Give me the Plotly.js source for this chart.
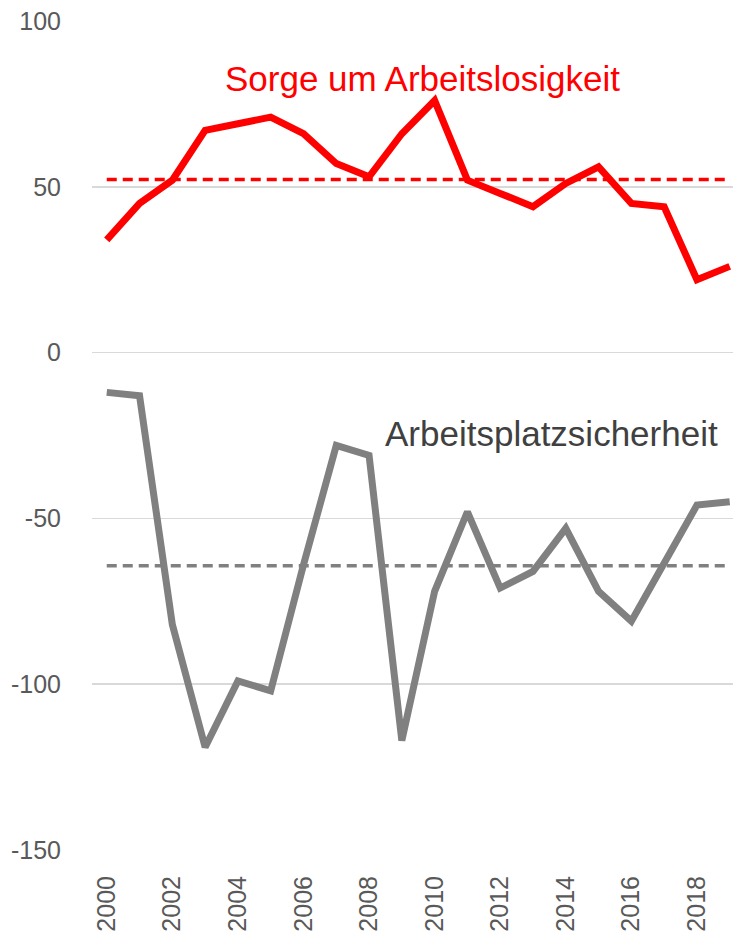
<!DOCTYPE html>
<html>
<head>
<meta charset="utf-8">
<script src="https://cdn.plot.ly/plotly-3.0.1.min.js"></script>
<style>html,body{margin:0;padding:0;background:#fff;}#chart{width:733px;height:931px;}</style>
</head>
<body>
<div id="chart"></div>
<script>
const years = [2000,2001,2002,2003,2004,2005,2006,2007,2008,2009,2010,2011,2012,2013,2014,2015,2016,2017,2018,2019];
const sorge = [34,45,52,67,69,71,66,57,53,66,76,52,48,44,51,56,45,44,22,26];
const sicherheit = [-12,-13,-82,-119,-99,-102,-64,-28,-31,-117,-72,-48,-71,-66,-53,-72,-81,-64,-46,-45];
const xTicks = [2000,2002,2004,2006,2008,2010,2012,2014,2016,2018];
const yTicks = [-150,-100,-50,0,50,100];
const labelSorge = "Sorge um Arbeitslosigkeit";
const labelSicherheit = "Arbeitsplatzsicherheit";

const mean = a => a.reduce((s, v) => s + v, 0) / a.length;
const sorgeMean = mean(sorge);
const sicherMean = mean(sicherheit);
const FONT = '"Liberation Sans", Arial, sans-serif';

const traces = [
  {x: [years[0], years[years.length-1]], y: [sorgeMean, sorgeMean], mode: 'lines',
   line: {color: '#ff0000', width: 3.5, dash: '10px,6px'}, hoverinfo: 'skip'},
  {x: [years[0], years[years.length-1]], y: [sicherMean, sicherMean], mode: 'lines',
   line: {color: '#808080', width: 3.5, dash: '10px,6px'}, hoverinfo: 'skip'},
  {x: years, y: sorge, mode: 'lines', name: labelSorge,
   line: {color: '#ff0000', width: 7}},
  {x: years, y: sicherheit, mode: 'lines', name: labelSicherheit,
   line: {color: '#808080', width: 7}}
];

const layout = {
  width: 733, height: 931,
  margin: {l: 92, r: 0, t: 21, b: 81},
  paper_bgcolor: '#ffffff', plot_bgcolor: '#ffffff',
  showlegend: false,
  xaxis: {
    range: [1999.55, 2019.1],
    tickvals: xTicks, ticktext: xTicks.map(String),
    tickangle: -90,
    showgrid: false, zeroline: false, showline: false,
    ticks: '', ticklabelstandoff: 20,
    tickfont: {family: FONT, size: 25, color: '#595959'}
  },
  yaxis: {
    range: [-150, 100],
    tickvals: yTicks, ticktext: yTicks.map(String),
    showgrid: true, gridcolor: '#d9d9d9', gridwidth: 1.5,
    zeroline: false, showline: false,
    ticks: '', ticklabelstandoff: 30,
    tickfont: {family: FONT, size: 25, color: '#595959'}
  },
  annotations: [
    {text: labelSorge, xref: 'paper', yref: 'paper', x: 0.515, y: 0.931,
     xanchor: 'center', yanchor: 'middle', showarrow: false,
     font: {family: FONT, size: 35, color: '#ff0000'}},
    {text: labelSicherheit, xref: 'paper', yref: 'paper', x: 0.717, y: 0.502,
     xanchor: 'center', yanchor: 'middle', showarrow: false,
     font: {family: FONT, size: 35, color: '#404040'}}
  ]
};

Plotly.newPlot('chart', traces, layout, {displayModeBar: false, staticPlot: true});
</script>
</body>
</html>
